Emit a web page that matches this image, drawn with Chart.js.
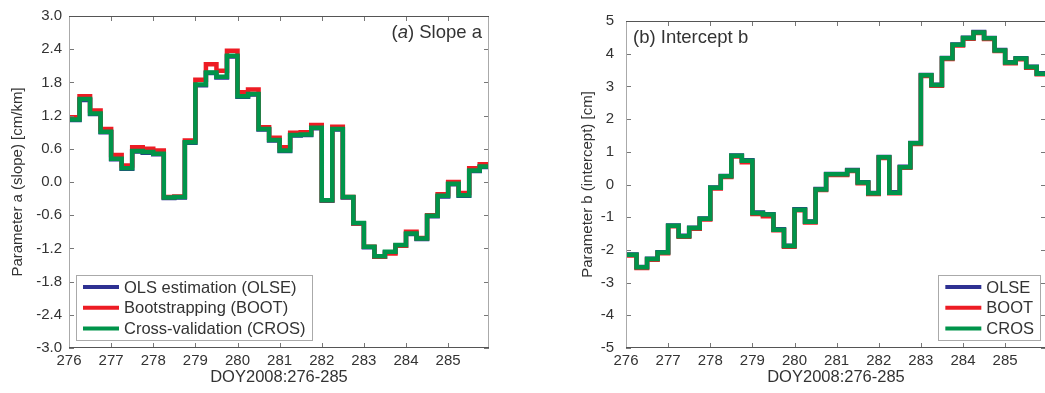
<!DOCTYPE html>
<html>
<head>
<meta charset="utf-8">
<script src="https://cdn.jsdelivr.net/npm/chart.js@4.4.1/dist/chart.umd.min.js"></script>
<style>
  body { margin:0; background:#fff; overflow:hidden; width:1045px; height:393px; position:relative; }
  .panel { position:absolute; top:0; }
</style>
</head>
<body>
<div class="panel" style="left:0px"><canvas id="slope" width="520" height="393"></canvas></div>
<div class="panel" style="left:570px"><canvas id="icpt" width="480" height="393"></canvas></div>
<script>
// day of year, one step every 6 hours (last value closes the final step)
var doy = [276,276.25,276.5,276.75,277,277.25,277.5,277.75,278,278.25,278.5,278.75,
           279,279.25,279.5,279.75,280,280.25,280.5,280.75,281,281.25,281.5,281.75,
           282,282.25,282.5,282.75,283,283.25,283.5,283.75,284,284.25,284.5,284.75,
           285,285.25,285.5,285.75,286]
var xTicks = [276,277,278,279,280,281,282,283,284,285]

// (a) slope a [cm/km]
var slopeOLSE = [1.12,1.48,1.23,0.90,0.41,0.24,0.55,0.53,0.50,-0.29,-0.28,0.71,1.75,1.97,1.89,2.27,1.54,1.58,0.95,0.75,
                 0.56,0.84,0.85,0.97,-0.34,0.95,-0.28,-0.75,-1.18,-1.35,-1.27,-1.15,-0.94,-1.03,-0.62,-0.26,-0.04,-0.25,0.20,0.27]
var slopeBOOT = [1.17,1.55,1.29,0.96,0.49,0.30,0.63,0.60,0.57,-0.27,-0.26,0.75,1.85,2.13,2.01,2.37,1.62,1.67,0.99,0.80,
                 0.63,0.89,0.90,1.03,-0.33,1.00,-0.27,-0.75,-1.17,-1.35,-1.29,-1.15,-0.90,-1.01,-0.60,-0.22,0.00,-0.20,0.25,0.32]
var slopeCROS = [1.13,1.50,1.24,0.91,0.42,0.25,0.56,0.54,0.51,-0.28,-0.27,0.72,1.76,1.98,1.90,2.28,1.55,1.59,0.96,0.76,
                 0.57,0.85,0.86,0.98,-0.33,0.96,-0.27,-0.74,-1.17,-1.34,-1.26,-1.14,-0.93,-1.02,-0.61,-0.25,-0.03,-0.24,0.21,0.28]
var slopeTicks = [-3,-2.4,-1.8,-1.2,-0.6,0,0.6,1.2,1.8,2.4,3]

// (b) intercept b [cm]
var icptOLSE = [-2.14,-2.52,-2.27,-2.07,-1.25,-1.57,-1.32,-1.04,-0.09,0.26,0.89,0.74,-0.86,-0.91,-1.37,-1.87,-0.76,-1.13,-0.14,0.32,
                0.32,0.44,0.07,-0.26,0.84,-0.24,0.54,1.27,3.35,3.05,3.87,4.28,4.49,4.66,4.48,4.11,3.74,3.86,3.60,3.40]
var icptBOOT = [-2.17,-2.55,-2.30,-2.10,-1.28,-1.60,-1.35,-1.07,-0.12,0.23,0.86,0.68,-0.90,-0.97,-1.40,-1.90,-0.79,-1.16,-0.17,0.29,
                0.29,0.41,0.04,-0.29,0.81,-0.27,0.51,1.24,3.32,3.02,3.84,4.25,4.46,4.63,4.45,4.08,3.71,3.83,3.57,3.37]
var icptCROS = [-2.15,-2.53,-2.28,-2.08,-1.26,-1.58,-1.33,-1.05,-0.10,0.25,0.88,0.73,-0.87,-0.92,-1.38,-1.88,-0.77,-1.14,-0.15,0.31,
                0.31,0.43,0.06,-0.27,0.83,-0.25,0.53,1.26,3.34,3.04,3.86,4.27,4.48,4.65,4.47,4.10,3.73,3.85,3.59,3.39]
var icptTicks = [-5,-4,-3,-2,-1,0,1,2,3,4,5]

var FONT = "'Liberation Sans', Arial, sans-serif"
Chart.defaults.font.family = FONT
Chart.defaults.color = '#333'

function pts(vals){
  var out = []
  for (var i=0;i<doy.length;i++){
    out.push({x: doy[i], y: vals[Math.min(i, vals.length-1)]})
  }
  return out
}

// box, inward ticks, in-plot legend and panel label (MATLAB look)
var framePlugin = {
  id: 'frame',
  afterDraw: function(chart){
    var ctx = chart.ctx, a = chart.chartArea, o = chart.options.plugins.frame
    var xs = chart.scales.x, ys = chart.scales.y
    ctx.save()
    ctx.lineWidth = 1
    ctx.strokeStyle = '#777'
    ctx.beginPath()
    xs.ticks.forEach(function(t){
      var px = Math.round(xs.getPixelForValue(t.value)) + 0.5
      ctx.moveTo(px, a.bottom); ctx.lineTo(px, a.bottom-5)
      ctx.moveTo(px, a.top); ctx.lineTo(px, a.top+5)
    })
    ys.ticks.forEach(function(t){
      var py = Math.round(ys.getPixelForValue(t.value)) + 0.5
      ctx.moveTo(a.left, py); ctx.lineTo(a.left+5, py)
      ctx.moveTo(a.right, py); ctx.lineTo(a.right-5, py)
    })
    ctx.stroke()
    ctx.strokeStyle = '#aaa'
    ctx.beginPath()
    ctx.moveTo(Math.round(a.left)+0.5, a.top); ctx.lineTo(Math.round(a.left)+0.5, a.bottom)
    ctx.moveTo(Math.round(a.right)-0.5, a.top); ctx.lineTo(Math.round(a.right)-0.5, a.bottom)
    ctx.stroke()
    ctx.strokeStyle = '#555'
    ctx.beginPath()
    ctx.moveTo(a.left, Math.round(a.top)+0.5); ctx.lineTo(a.right, Math.round(a.top)+0.5)
    ctx.moveTo(a.left, Math.round(a.bottom)-0.5); ctx.lineTo(a.right, Math.round(a.bottom)-0.5)
    ctx.stroke()

    // legend
    var ds = chart.data.datasets
    ctx.font = '16.5px ' + FONT
    var maxW = 0
    ds.forEach(function(d){ maxW = Math.max(maxW, ctx.measureText(d.label).width) })
    var bw = 48 + maxW + 6, bh = 65
    var bx = o.legendLeft ? a.left + 7 : a.right - 6 - bw
    var by = a.bottom - 8 - bh
    ctx.fillStyle = '#fff'
    ctx.fillRect(bx, by, bw, bh)
    ctx.strokeStyle = '#aaa'
    ctx.strokeRect(Math.round(bx)+0.5, Math.round(by)+0.5, Math.round(bw), bh)
    ds.forEach(function(d, i){
      var cy = by + 12 + i*20.8
      ctx.strokeStyle = d.borderColor
      ctx.lineWidth = 4
      ctx.beginPath(); ctx.moveTo(bx+7, cy); ctx.lineTo(bx+43, cy); ctx.stroke()
      ctx.fillStyle = '#333'
      ctx.textBaseline = 'middle'
      ctx.fillText(d.label, bx+48, cy+1)
    })

    // panel label, parts with optional italic
    var w = 0
    o.label.forEach(function(p){
      ctx.font = (p.it ? 'italic ' : '') + '18.5px ' + FONT
      w += ctx.measureText(p.t).width
    })
    var tx = o.labelRight ? a.right - 7 - w : a.left + 7
    ctx.textBaseline = 'alphabetic'
    ctx.fillStyle = '#333'
    o.label.forEach(function(p){
      ctx.font = (p.it ? 'italic ' : '') + '18.5px ' + FONT
      ctx.fillText(p.t, tx, a.top + 21.5)
      tx += ctx.measureText(p.t).width
    })
    ctx.restore()
  }
}

function makeChart(id, o){
  return new Chart(document.getElementById(id), {
    type: 'line',
    data: {
      datasets: [
        {label: o.names[0], data: pts(o.series[0]), borderColor: '#2e3192', order: 3},
        {label: o.names[1], data: pts(o.series[1]), borderColor: '#ed1c24', order: 2},
        {label: o.names[2], data: pts(o.series[2]), borderColor: '#00944a', order: 1}
      ]
    },
    options: {
      responsive: false,
      animation: false,
      devicePixelRatio: 1,
      layout: {padding: {top: 15, right: o.padRight, left: 0, bottom: 0}},
      elements: {
        line: {borderWidth: 4.5, stepped: 'before', tension: 0, borderJoinStyle: 'miter', borderCapStyle: 'butt'},
        point: {radius: 0, hoverRadius: 0}
      },
      plugins: {
        legend: {display: false},
        tooltip: {enabled: false},
        frame: {label: o.label, labelRight: o.labelRight, legendLeft: o.legendLeft}
      },
      scales: {
        x: {
          type: 'linear', min: 276, max: 285.97,
          grid: {display: false, drawTicks: false}, border: {display: false},
          ticks: {font: {size: 15}, padding: 4, maxRotation: 0, color: '#333'},
          afterBuildTicks: function(s){ s.ticks = xTicks.map(function(v){ return {value: v} }) },
          afterFit: function(s){ s.height = 45 },
          title: {display: true, text: 'DOY2008:276-285', font: {size: 16.5}, padding: {top: 0, bottom: 6}, color: '#333'}
        },
        y: {
          min: o.yTicks[0], max: o.yTicks[o.yTicks.length-1],
          grid: {display: false, drawTicks: false}, border: {display: false},
          ticks: {font: {size: 15}, padding: o.tickPad, color: '#333', callback: o.fmt},
          afterBuildTicks: function(s){ s.ticks = o.yTicks.map(function(v){ return {value: v} }) },
          afterFit: function(s){ s.width = o.yWidth },
          title: {display: true, text: o.yTitle, font: {size: 15}, padding: {top: 9, bottom: 0}, color: '#333'}
        }
      }
    },
    plugins: [framePlugin]
  })
}

makeChart('slope', {
  names: ['OLS estimation (OLSE)', 'Bootstrapping (BOOT)', 'Cross-validation (CROS)'],
  series: [slopeOLSE, slopeBOOT, slopeCROS],
  yTicks: slopeTicks,
  fmt: function(v){ return v.toFixed(1) },
  yTitle: 'Parameter a (slope) [cm/km]',
  yWidth: 69, tickPad: 7, padRight: 31,
  label: [{t: '('}, {t: 'a', it: true}, {t: ') Slope a'}], labelRight: true,
  legendLeft: true
})

makeChart('icpt', {
  names: ['OLSE', 'BOOT', 'CROS'],
  series: [icptOLSE, icptBOOT, icptCROS],
  yTicks: icptTicks,
  fmt: function(v){ return String(v) },
  yTitle: 'Parameter b (intercept) [cm]',
  yWidth: 56, tickPad: 12, padRight: 4,
  label: [{t: '(b) Intercept b'}], labelRight: false,
  legendLeft: false
})
</script>
</body>
</html>
